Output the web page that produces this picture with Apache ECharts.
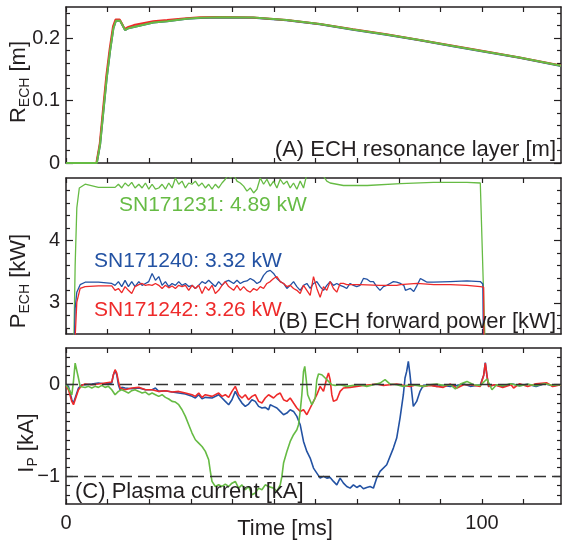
<!DOCTYPE html>
<html>
<head>
<meta charset="utf-8">
<script src="https://cdn.jsdelivr.net/npm/echarts@6/dist/echarts.min.js"></script>
<style>
  html, body { margin: 0; padding: 0; background: #fff; }
  #chart { width: 562px; height: 542px; }
</style>
</head>
<body>
<div id="chart"></div>
<script>
// ---- data (time in ms) ----
const timeTicks = [0, 10, 20, 30, 40, 50, 60, 70, 80, 90, 100, 110];
const timeLabels = [0, 100];

// (A) ECH resonance layer [m]
const rLabels = [0, 0.1, 0.2];
const rTicks = [0.02, 0.04, 0.06, 0.08, 0.12, 0.14, 0.16, 0.18, 0.22, 0.24];
const rechBlue = [[0,0],[7.4,0],[8.2,0.03],[9.0,0.084],[9.8,0.137],[10.6,0.18],[11.4,0.216],[12.0,0.228],[12.4,0.23],[13.0,0.228],[13.5,0.222],[14.2,0.213],[15.0,0.216],[16.3,0.218],[21,0.225],[24.3,0.227],[29,0.231],[32.3,0.2325],[37,0.2332],[45,0.2326],[53,0.2286],[61,0.2222],[69,0.2136],[77,0.2056],[85,0.1966],[93,0.1872],[101.3,0.1776],[109,0.1686],[119,0.1556]];
const rechRed = [[0,0],[7.3,0],[8.1,0.03],[8.9,0.086],[9.7,0.14],[10.5,0.183],[11.3,0.219],[11.9,0.23],[12.3,0.232],[12.9,0.23],[13.4,0.224],[14.1,0.215],[15.0,0.218],[16.3,0.221],[21,0.227],[24.3,0.229],[29,0.232],[32.3,0.2335],[37,0.234],[45,0.2332],[53,0.2292],[61,0.2228],[69,0.2142],[77,0.2062],[85,0.1972],[93,0.1878],[101.3,0.1782],[109,0.1692],[119,0.1562]];
const rechGreen = [[0,0],[7.4,0],[8.2,0.03],[9.0,0.084],[9.8,0.137],[10.6,0.18],[11.4,0.216],[12.0,0.228],[12.4,0.23],[13.0,0.228],[13.5,0.222],[14.2,0.213],[15.0,0.216],[16.3,0.218],[21,0.225],[24.3,0.227],[29,0.231],[32.3,0.2327],[37,0.2335],[45,0.233],[53,0.229],[61,0.2226],[69,0.214],[77,0.206],[85,0.197],[93,0.1876],[101.3,0.178],[109,0.169],[119,0.156]];

// (B) ECH forward power [kW]
const pLabels = [3, 4];
const pTicks = [2.6, 2.8, 3.2, 3.4, 3.6, 3.8, 4.2, 4.4, 4.6, 4.8];
const shotNames = ['SN171231: 4.89 kW', 'SN171240: 3.32 kW', 'SN171242: 3.26 kW'];
const pechGreen = [[0,2.0],[1.8,2.0],[2.2,3.6],[2.6,4.52],[3.2,4.84],[4.6,4.9],[7.8,4.85],[11.8,4.85],[12.6,4.9],[13.4,4.84],[14.2,4.92],[15.0,4.87],[15.8,4.93],[16.6,4.84],[17.5,4.9],[18.3,4.84],[19.1,4.92],[19.9,4.82],[20.7,4.9],[21.5,4.82],[22.3,4.84],[23.1,4.9],[23.9,4.82],[24.7,4.92],[25.5,4.84],[26.3,5.0],[27.1,4.9],[27.9,4.95],[28.7,4.84],[29.5,4.92],[30.3,4.9],[31.1,4.95],[31.9,4.87],[32.7,4.92],[33.5,4.84],[34.3,4.9],[35.1,4.82],[35.9,4.9],[36.7,4.84],[37.5,4.92],[38.3,4.98],[39.1,5.06],[39.5,5.0],[40.3,5.06],[41.1,4.95],[41.9,4.92],[42.7,4.87],[43.5,4.79],[44.3,4.84],[45.1,4.76],[45.9,4.82],[46.7,5.0],[47.5,4.9],[48.3,4.98],[49.1,4.87],[49.9,4.95],[50.7,4.84],[51.5,4.98],[52.3,4.9],[53.1,4.95],[53.9,4.84],[54.7,4.92],[55.5,4.82],[56.3,4.95],[57.1,4.84],[57.9,5.06],[59.1,5.1],[61.1,5.1],[61.9,5.03],[62.7,4.95],[63.5,4.92],[65.1,4.9],[66.7,4.88],[72.4,4.88],[80.4,4.91],[88.3,4.93],[96.4,4.93],[99.6,4.92],[100.0,4.9],[100.9,2.0],[119,2.0]];
const pechBlue = [[0,2.3],[2.0,2.3],[2.2,2.91],[2.6,3.17],[3.4,3.29],[4.6,3.33],[7.8,3.33],[11.0,3.31],[11.8,3.28],[12.6,3.34],[13.4,3.26],[14.2,3.36],[15.0,3.26],[15.8,3.34],[16.6,3.26],[17.5,3.34],[18.3,3.28],[19.1,3.31],[19.9,3.34],[20.7,3.47],[21.5,3.36],[22.3,3.42],[23.1,3.28],[23.9,3.34],[24.7,3.26],[25.5,3.31],[26.3,3.28],[27.1,3.34],[27.9,3.28],[28.7,3.31],[29.5,3.26],[30.3,3.28],[31.1,3.23],[31.9,3.28],[32.7,3.34],[33.5,3.31],[34.3,3.36],[35.1,3.31],[35.9,3.26],[36.7,3.34],[37.5,3.28],[38.3,3.34],[39.1,3.36],[39.5,3.34],[40.3,3.31],[41.1,3.36],[41.9,3.31],[42.7,3.34],[43.5,3.35],[44.3,3.39],[45.1,3.36],[45.9,3.31],[46.7,3.34],[47.5,3.44],[48.3,3.5],[49.1,3.52],[49.9,3.47],[50.7,3.39],[51.5,3.34],[52.3,3.31],[53.1,3.23],[53.9,3.28],[54.7,3.34],[55.5,3.26],[56.3,3.2],[57.1,3.28],[57.9,3.31],[58.7,3.23],[59.5,3.31],[60.3,3.34],[61.1,3.26],[61.9,3.2],[62.7,3.28],[63.5,3.34],[64.3,3.28],[65.1,3.31],[65.9,3.28],[66.7,3.26],[67.5,3.23],[68.3,3.31],[69.1,3.28],[69.9,3.26],[70.7,3.28],[71.5,3.39],[72.3,3.38],[73.1,3.34],[73.9,3.34],[74.7,3.26],[75.5,3.2],[76.3,3.26],[77.1,3.28],[77.9,3.31],[78.7,3.34],[79.5,3.33],[80.4,3.31],[81.2,3.28],[81.6,3.2],[82.0,3.18],[82.8,3.23],[83.6,3.18],[84.4,3.28],[85.2,3.39],[86.0,3.36],[86.8,3.33],[88.4,3.33],[92.4,3.34],[96.4,3.35],[99.6,3.34],[100.2,3.3],[100.4,2.0],[119,2.0]];
const pechRed = [[0,2.3],[2.1,2.3],[2.6,3.01],[3.4,3.23],[4.6,3.26],[7.8,3.27],[11.0,3.27],[11.8,3.2],[12.6,3.23],[13.4,3.16],[14.2,3.26],[15.0,3.2],[15.8,3.15],[16.6,3.26],[17.5,3.29],[18.3,3.31],[19.1,3.28],[19.9,3.29],[20.7,3.28],[21.5,3.31],[22.3,3.28],[23.1,3.23],[23.9,3.28],[24.7,3.24],[25.5,3.27],[26.3,3.23],[27.1,3.28],[27.9,3.26],[28.7,3.28],[29.5,3.2],[30.3,3.28],[31.1,3.23],[31.9,3.28],[32.7,3.15],[33.5,3.26],[34.3,3.2],[35.1,3.28],[35.9,3.15],[36.7,3.2],[37.5,3.28],[38.3,3.34],[39.1,3.26],[39.5,3.23],[40.3,3.2],[41.1,3.28],[41.9,3.2],[42.7,3.26],[43.5,3.2],[44.3,3.17],[45.1,3.23],[45.9,3.2],[46.7,3.26],[47.5,3.23],[48.3,3.31],[49.1,3.34],[49.9,3.39],[50.7,3.42],[51.5,3.34],[52.3,3.31],[53.1,3.26],[53.9,3.28],[54.7,3.23],[55.5,3.2],[56.3,3.15],[57.1,3.28],[57.9,3.2],[58.7,3.12],[59.5,3.42],[60.3,3.23],[61.1,3.09],[61.9,3.26],[62.7,3.2],[63.5,3.34],[64.3,3.23],[65.1,3.17],[65.9,3.31],[66.7,3.31],[67.5,3.29],[70.7,3.29],[75.5,3.28],[79.5,3.28],[80.4,3.29],[84.4,3.31],[88.4,3.29],[92.4,3.29],[96.4,3.28],[99.6,3.26],[100.4,3.25],[100.5,2.0],[119,2.0]];

// (C) Plasma current [kA]
const iLabels = [0, -1];
const iTicks = [0.3, 0.2, 0.1, -0.1, -0.2, -0.3, -0.4, -0.5, -0.6, -0.7, -0.8, -0.9, -1.1, -1.2];
const iRefs = [0, -1];
const ipBlue = [[0,0],[0.6,-0.018],[1.4,-0.164],[1.8,-0.2],[2.2,-0.145],[3.0,-0.036],[3.8,0.0],[4.6,0.0],[6.2,0.007],[7.8,0.018],[9.4,0.007],[11.0,0.018],[11.4,0.109],[11.8,0.153],[12.2,0.109],[12.6,0.0],[13.0,-0.055],[13.4,-0.029],[14.2,-0.036],[15.8,-0.044],[17.5,-0.036],[19.1,-0.055],[20.7,-0.055],[21.5,-0.036],[22.3,-0.073],[23.9,-0.065],[25.5,-0.08],[27.1,-0.091],[28.7,-0.102],[30.3,-0.127],[31.1,-0.145],[31.9,-0.109],[32.7,-0.153],[33.5,-0.138],[35.1,-0.145],[36.7,-0.109],[37.5,-0.145],[38.3,-0.182],[39.1,-0.218],[39.9,-0.164],[40.7,-0.073],[41.5,-0.145],[42.3,-0.2],[43.1,-0.236],[43.9,-0.211],[44.7,-0.164],[45.5,-0.182],[46.3,-0.236],[47.1,-0.254],[47.9,-0.247],[48.7,-0.273],[49.1,-0.218],[49.9,-0.236],[50.7,-0.254],[51.5,-0.291],[52.3,-0.327],[53.1,-0.309],[53.9,-0.273],[54.7,-0.291],[55.5,-0.345],[56.3,-0.436],[57.1,-0.618],[57.9,-0.727],[58.7,-0.8],[59.5,-0.909],[60.3,-0.963],[61.1,-1.018],[61.9,-0.999],[62.7,-1.018],[63.5,-1.01],[64.3,-1.054],[65.1,-1.091],[65.9,-1.018],[66.7,-1.073],[67.5,-1.109],[68.3,-1.127],[69.1,-1.091],[69.9,-1.12],[70.7,-1.098],[71.5,-1.134],[72.3,-1.12],[73.1,-1.109],[73.9,-1.127],[74.3,-1.109],[74.7,-1.018],[75.5,-0.945],[77.1,-0.872],[78.7,-0.691],[79.5,-0.582],[80.3,-0.363],[81.1,-0.109],[81.5,0.073],[81.9,0.145],[82.3,0.254],[82.7,0.109],[83.1,-0.073],[83.5,-0.236],[84.3,-0.182],[85.1,-0.073],[85.9,-0.007],[87.5,0.0],[89.1,-0.018],[90.7,-0.007],[92.4,-0.018],[94.0,-0.007],[95.6,0.007],[97.2,-0.018],[99.6,0.0],[100.0,0.0],[100.4,0.1],[100.8,0.24],[101.2,0.1],[101.6,-0.02],[103,0.0],[105,-0.02],[107,0.01],[109,-0.01],[111,0.005],[113,-0.02],[115,0.01],[117,-0.01],[119,0.0]];
const ipRed = [[0,-0.018],[0.6,-0.055],[1.4,-0.182],[1.8,-0.218],[2.2,-0.164],[3.0,-0.055],[3.8,-0.007],[4.6,0.007],[6.2,0.0],[7.8,0.007],[9.4,0.018],[11.0,0.029],[11.4,0.109],[11.8,0.164],[12.2,0.127],[12.6,0.036],[13.0,-0.036],[13.4,-0.018],[14.2,-0.055],[15.8,-0.036],[17.5,-0.029],[19.1,-0.055],[20.7,-0.055],[22.3,-0.073],[23.9,-0.065],[25.5,-0.08],[27.1,-0.073],[28.7,-0.091],[30.3,-0.109],[31.1,-0.127],[31.9,-0.091],[32.7,-0.138],[33.5,-0.109],[35.1,-0.127],[36.7,-0.091],[37.5,-0.127],[38.3,-0.109],[39.1,-0.138],[39.9,-0.073],[40.7,-0.018],[41.5,-0.109],[42.3,-0.145],[43.1,-0.109],[43.9,-0.164],[44.7,-0.127],[45.5,-0.109],[46.3,-0.182],[47.1,-0.2],[47.9,-0.145],[48.7,-0.109],[49.1,-0.091],[49.9,-0.145],[50.7,-0.109],[51.5,-0.091],[52.3,-0.164],[53.1,-0.182],[53.9,-0.145],[54.7,-0.2],[55.5,-0.254],[56.3,-0.291],[57.1,-0.273],[57.9,-0.327],[58.7,-0.254],[59.5,-0.182],[60.3,-0.109],[61.1,-0.018],[61.9,-0.073],[62.3,0.0],[62.7,0.073],[63.1,0.127],[63.5,0.055],[63.9,-0.109],[64.3,-0.182],[64.7,-0.2],[65.1,-0.164],[65.9,-0.073],[66.7,-0.036],[68.3,-0.029],[69.9,-0.018],[71.5,-0.007],[73.1,0.0],[74.7,0.007],[76.3,-0.007],[77.9,0.0],[79.5,0.007],[81.1,-0.007],[82.7,-0.018],[84.3,0.0],[85.9,-0.018],[87.5,-0.007],[89.1,-0.018],[90.7,-0.029],[92.4,0.007],[94.0,-0.036],[95.6,0.0],[97.2,0.0],[99.6,-0.018],[100.0,0.0],[100.4,0.1],[100.8,0.236],[101.2,0.1],[101.6,-0.018],[103,0.0],[105,-0.03],[107,0.0],[107.6,-0.036],[109,0.01],[111,-0.02],[113,0.01],[115.6,0.02],[117,-0.02],[119,0.0]];
const ipGreen = [[0,0],[0.6,-0.04],[1.4,-0.11],[1.8,0.04],[2.2,0.236],[2.6,0.22],[3.0,0.07],[3.4,-0.02],[3.8,-0.036],[4.6,-0.03],[5.4,-0.018],[6.2,-0.036],[7.0,-0.018],[7.8,-0.029],[8.6,-0.007],[9.4,-0.029],[10.2,-0.018],[11.0,-0.055],[11.8,-0.109],[12.6,-0.073],[13.4,-0.055],[14.2,-0.073],[15.0,-0.091],[15.8,-0.065],[16.6,-0.055],[17.5,-0.073],[18.3,-0.091],[19.1,-0.08],[19.9,-0.109],[20.7,-0.091],[21.5,-0.109],[22.3,-0.127],[23.1,-0.109],[23.9,-0.138],[24.7,-0.156],[25.5,-0.182],[26.3,-0.189],[27.1,-0.218],[27.9,-0.273],[28.7,-0.345],[29.5,-0.436],[30.3,-0.527],[31.1,-0.6],[31.9,-0.636],[32.7,-0.673],[33.5,-0.727],[34.3,-0.818],[34.7,-0.945],[35.1,-1.054],[35.9,-1.109],[36.7,-1.091],[37.5,-1.109],[38.3,-1.083],[39.1,-1.109],[39.9,-1.073],[40.7,-1.054],[41.5,-1.127],[42.3,-1.091],[43.1,-1.145],[43.9,-1.109],[44.7,-1.2],[45.5,-1.181],[46.3,-1.127],[47.1,-1.145],[47.9,-1.091],[48.7,-1.109],[49.1,-1.091],[49.9,-1.127],[50.7,-1.163],[51.5,-1.091],[51.9,-1.0],[52.3,-0.854],[53.1,-0.727],[53.9,-0.618],[54.7,-0.545],[55.5,-0.491],[55.9,-0.436],[56.3,-0.291],[56.7,-0.109],[57.1,0.145],[57.4,0.2],[57.8,0.036],[58.1,-0.109],[58.6,-0.164],[59.1,-0.218],[59.5,-0.236],[59.9,-0.145],[60.3,0.055],[60.7,0.116],[61.5,0.109],[62.3,0.073],[63.1,0.036],[63.9,0.0],[64.7,-0.007],[65.9,0.0],[67.5,-0.018],[69.1,-0.007],[70.7,0.0],[72.3,-0.018],[73.9,0.0],[75.5,0.018],[76.7,0.055],[77.9,0.007],[79.5,0.0],[81.1,-0.018],[82.7,0.0],[84.3,-0.007],[85.9,-0.018],[87.5,0.0],[89.1,0.007],[90.7,-0.007],[92.4,0.0],[93.6,-0.047],[94.8,0.007],[96.4,0.036],[98.0,0.0],[99.6,-0.007],[101.2,0.062],[102.4,-0.055],[103.5,0.0],[105,-0.01],[107,0.01],[109,-0.015],[111,0.005],[113,-0.01],[115,0.01],[117,-0.005],[119,0.0]];

// ---- look ----
const FONT = '"Liberation Sans", Arial, sans-serif';
const INK = '#231f20';
const GREEN = '#66bb44';
const BLUE = '#2352a3';
const RED = '#ee2a2a';

const grids = [
  { left: 66, top: 7, width: 495, height: 156 },
  { left: 66, top: 178, width: 495, height: 156 },
  { left: 66, top: 348, width: 495, height: 156 }
];

function xAx(gi, pos, labels) {
  return {
    type: 'value', gridIndex: gi, position: pos, min: 0, max: 119,
    axisLine: { show: true, onZero: false, lineStyle: { color: INK, width: 1.5 } },
    axisTick: { show: true, inside: true, length: 5, customValues: timeTicks, lineStyle: { color: INK, width: 1.2 } },
    axisLabel: labels ? { show: true, customValues: labels, margin: 9, fontSize: 20, fontFamily: FONT, color: INK } : { show: false },
    splitLine: { show: false }
  };
}

function yAx(gi, pos, min, max, ticks, len, labels, line) {
  return {
    type: 'value', gridIndex: gi, position: pos, min: min, max: max,
    axisLine: { show: line, onZero: false, lineStyle: { color: INK, width: 1.5 } },
    axisTick: { show: true, inside: true, length: len, customValues: ticks, lineStyle: { color: INK, width: 1.2 } },
    axisLabel: labels ? {
      show: true, customValues: labels, margin: 6, fontSize: 20, fontFamily: FONT, color: INK,
      formatter: v => String(v).replace('-', '\u2212')
    } : { show: false },
    splitLine: { show: false }
  };
}

const xAxis = [];
const yAxis = [];
const yDefs = [
  [0, 0.25, rLabels, rTicks],
  [2.5, 5, pLabels, pTicks],
  [-1.3, 0.4, iLabels, iTicks]
];
yDefs.forEach(([mn, mx, labs, minor], gi) => {
  xAxis.push(xAx(gi, 'bottom', gi === 2 ? timeLabels : null));
  xAxis.push(xAx(gi, 'top', null));
  yAxis.push(yAx(gi, 'left', mn, mx, labs, 7, labs, true));
  yAxis.push(yAx(gi, 'left', mn, mx, minor, 4, null, false));
  yAxis.push(yAx(gi, 'right', mn, mx, labs, 7, null, true));
  yAxis.push(yAx(gi, 'right', mn, mx, minor, 4, null, false));
});

function line(gi, data, color, width, extra) {
  return Object.assign({
    type: 'line', xAxisIndex: gi * 2, yAxisIndex: gi * 4, data: data,
    symbol: 'none', showSymbol: false, clip: true, animation: false,
    lineStyle: { color: color, width: width }
  }, extra || {});
}

const series = [
  line(0, rechBlue, BLUE, 2),
  line(0, rechRed, RED, 2),
  line(0, rechGreen, GREEN, 2),
  line(1, pechGreen, GREEN, 1.3),
  line(1, pechBlue, BLUE, 1.3),
  line(1, pechRed, RED, 1.3),
  line(2, ipBlue, BLUE, 1.6, {
    markLine: {
      silent: true, symbol: ['none', 'none'], animation: false,
      label: { show: false },
      lineStyle: { color: '#333', width: 1.3, type: [12, 6] },
      data: iRefs.map(v => ({ yAxis: v }))
    }
  }),
  line(2, ipRed, RED, 1.6),
  line(2, ipGreen, GREEN, 1.6)
];

function txt(x, y, text, color, align, size) {
  return {
    type: 'text', x: x, y: y, z: 100,
    style: { text: text, fill: color, align: align, verticalAlign: 'middle', font: size + 'px ' + FONT }
  };
}

function ytitle(x, y, main, sub, unit) {
  const m = { fontSize: 22, fontFamily: FONT, fill: INK, lineHeight: 26 };
  const s = { fontSize: 14, fontFamily: FONT, fill: INK, lineHeight: 14, verticalAlign: 'bottom' };
  return {
    type: 'text', x: x, y: y, rotation: Math.PI / 2, z: 100,
    style: {
      text: '{m|' + main + '}{s|' + sub + '}{m|' + unit + '}',
      rich: { m: m, s: s }, align: 'center', verticalAlign: 'middle'
    }
  };
}

const graphic = [
  txt(556, 150, '(A) ECH resonance layer [m]', INK, 'right', 22),
  txt(556, 322, '(B) ECH forward power [kW]', INK, 'right', 22),
  txt(75, 492, '(C) Plasma current [kA]', INK, 'left', 22),
  txt(119, 205, shotNames[0], GREEN, 'left', 21),
  txt(94, 261, shotNames[1], BLUE, 'left', 21),
  txt(94, 310, shotNames[2], RED, 'left', 21),
  txt(285, 529, 'Time [ms]', INK, 'center', 22),
  ytitle(19, 82, 'R', 'ECH', ' [m]'),
  ytitle(19, 281, 'P', 'ECH', ' [kW]'),
  ytitle(27, 443, 'I', 'P', ' [kA]')
];

const chart = echarts.init(document.getElementById('chart'), null, { renderer: 'canvas' });
chart.setOption({
  animation: false,
  backgroundColor: '#fff',
  grid: grids,
  xAxis: xAxis,
  yAxis: yAxis,
  series: series,
  graphic: graphic
});
</script>
</body>
</html>
